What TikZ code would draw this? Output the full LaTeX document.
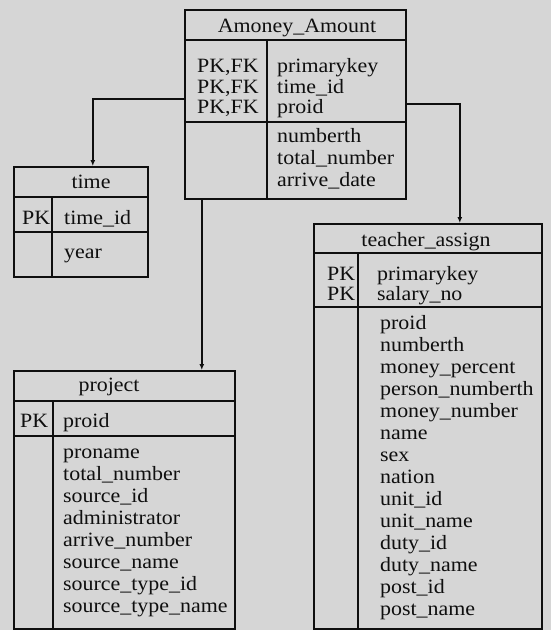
\documentclass[tikz,border=0pt]{standalone}
\usepackage{fontspec}
\setmainfont{Liberation Serif}[FakeStretch=1.08]
\usetikzlibrary{arrows.meta}
\definecolor{bg}{RGB}{214,214,214}
\definecolor{ink}{RGB}{15,15,15}
\tikzset{
  tbl/.style={draw=ink, line width=1.6pt, inner sep=0pt, anchor=north west},
  sep/.style={draw=ink, line width=1.6pt},
  txt/.style={anchor=base west, inner sep=0pt, text=ink, font=\fontsize{20.3}{22}\selectfont},
  hdr/.style={anchor=base, inner sep=0pt, text=ink, font=\fontsize{20.3}{22}\selectfont},
  conn/.style={draw=ink, line width=1.6pt, -{Latex[length=6pt,width=5pt]}},
}
\begin{document}
\begin{tikzpicture}[x=1pt,y=-1pt]
\fill[bg] (0,0) rectangle (551,630);
\useasboundingbox (0,0) rectangle (551,630);

% Amoney_Amount
\node[tbl, minimum width=221pt, minimum height=189pt] (am) at (184,9) {};
\draw[sep] (184,40) -- (405,40);
\draw[sep] (184,122) -- (405,122);
\draw[sep] (267,40) -- (267,198);
\node[hdr] (amh) at (297,32) {Amoney\_Amount};
\node[txt] (amk1) at (197,72) {PK,FK};
\node[txt] (amk2) at (197,93) {PK,FK};
\node[txt] (amk3) at (197,113) {PK,FK};
\node[txt] (ama1) at (277,72) {primarykey};
\node[txt] (ama2) at (277,93) {time\_id};
\node[txt] (ama3) at (277,113) {proid};
\node[txt] (ama4) at (277,142) {numberth};
\node[txt] (ama5) at (277,164) {total\_number};
\node[txt] (ama6) at (277,186) {arrive\_date};

% time
\node[tbl, minimum width=134pt, minimum height=110pt] (tm) at (13,166) {};
\draw[sep] (13,197) -- (147,197);
\draw[sep] (13,232) -- (147,232);
\draw[sep] (52,197) -- (52,276);
\node[hdr] (tmh) at (91,188) {time};
\node[txt] (tmk1) at (22,224) {PK};
\node[txt] (tma1) at (64,224) {time\_id};
\node[txt] (tma2) at (64,258) {year};

% project
\node[tbl, minimum width=221pt, minimum height=258pt] (pr) at (13,370) {};
\draw[sep] (13,401) -- (234,401);
\draw[sep] (13,436) -- (234,436);
\draw[sep] (53,401) -- (53,628);
\node[hdr] (prh) at (109,391) {project};
\node[txt] (prk1) at (20,427) {PK};
\node[txt] (pra1) at (63,427) {proid};
\node[txt] (pra2) at (63,458) {proname};
\node[txt] (pra3) at (63,480) {total\_number};
\node[txt] (pra4) at (63,502) {source\_id};
\node[txt] (pra5) at (63,524) {administrator};
\node[txt] (pra6) at (63,546) {arrive\_number};
\node[txt] (pra7) at (63,568) {source\_name};
\node[txt] (pra8) at (63,590) {source\_type\_id};
\node[txt] (pra9) at (63,612) {source\_type\_name};

% teacher_assign
\node[tbl, minimum width=228pt, minimum height=405pt] (ta) at (313,223) {};
\draw[sep] (313,253) -- (541,253);
\draw[sep] (313,307) -- (541,307);
\draw[sep] (358,253) -- (358,628);
\node[hdr] (tah) at (426,246) {teacher\_assign};
\node[txt] (tak1) at (327,280) {PK};
\node[txt] (tak2) at (327,300) {PK};
\node[txt] (taa1) at (377,280) {primarykey};
\node[txt] (taa2) at (377,300) {salary\_no};
\node[txt] (tab1) at (380,329) {proid};
\node[txt] (tab2) at (380,351) {numberth};
\node[txt] (tab3) at (380,373) {money\_percent};
\node[txt] (tab4) at (380,395) {person\_numberth};
\node[txt] (tab5) at (380,417) {money\_number};
\node[txt] (tab6) at (380,439) {name};
\node[txt] (tab7) at (380,461) {sex};
\node[txt] (tab8) at (380,483) {nation};
\node[txt] (tab9) at (380,505) {unit\_id};
\node[txt] (tab10) at (380,527) {unit\_name};
\node[txt] (tab11) at (380,549) {duty\_id};
\node[txt] (tab12) at (380,571) {duty\_name};
\node[txt] (tab13) at (380,593) {post\_id};
\node[txt] (tab14) at (380,615) {post\_name};

% connectors
\draw[conn] ([yshift=5.5pt]am.west) -| ([xshift=12pt]tm.north);
\draw[conn] ([yshift=0.5pt]am.east) -| ([xshift=32pt]ta.north);
\draw[conn] ([xshift=-93.5pt]am.south) -- ([xshift=-93.5pt]am.south |- pr.north);
\end{tikzpicture}
\end{document}
